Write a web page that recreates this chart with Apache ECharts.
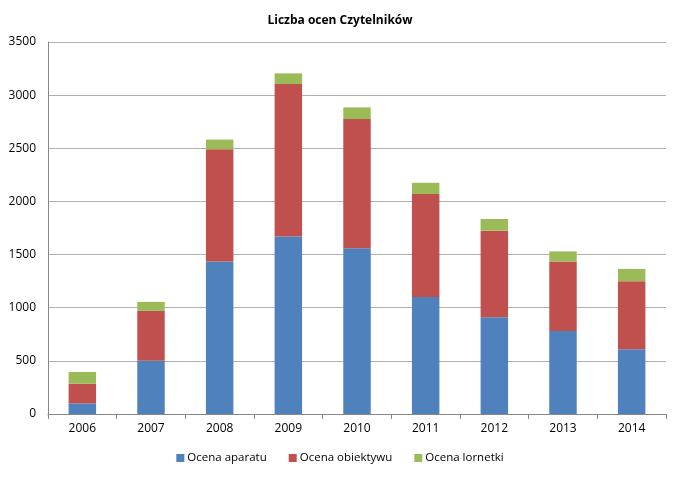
<!DOCTYPE html>
<html><head><meta charset="utf-8">
<script src="https://cdn.jsdelivr.net/npm/echarts@6/dist/echarts.min.js"></script>
<style>html,body{margin:0;padding:0;background:#fff}#c{width:680px;height:477px}</style>
</head><body><div id="c"></div>
<script>
const categories = ['2006','2007','2008','2009','2010','2011','2012','2013','2014'];
const ocenaAparatu = [100, 500, 1435, 1670, 1560, 1100, 910, 780, 610];
const ocenaObiektywu = [185, 470, 1057, 1435, 1215, 970, 815, 655, 640];
const ocenaLornetki = [110, 85, 90, 100, 110, 105, 110, 95, 115];
const seriesNames = ['Ocena aparatu', 'Ocena obiektywu', 'Ocena lornetki'];
const colors = ['#4F81BD', '#C0504D', '#9BBB59'];
const FONT = 'Open Sans';
const chart = echarts.init(document.getElementById('c'), null, {renderer:'canvas'});
const mk = (name, data, i) => ({
  name, type:'bar', stack:'s', data, barWidth:'40%',
  itemStyle:{color:colors[i]}, emphasis:{disabled:true}
});
chart.setOption({
  animation:false,
  backgroundColor:'#fff',
  title:{text:'Liczba ocen Czytelników', left:'center', top:10,
    textStyle:{fontFamily:FONT, fontSize:12, fontWeight:'bold', color:'#000'}},
  legend:{bottom:8, left:'center', itemWidth:8, itemHeight:8, itemGap:22, icon:'rect',
    textStyle:{fontFamily:FONT, fontSize:11.5, color:'#000', padding:[0,0,0,-2]},
    data:seriesNames},
  grid:{left:48, right:14, top:42, bottom:63, containLabel:false},
  xAxis:{type:'category', data:categories, boundaryGap:true,
    axisLine:{lineStyle:{color:'#888'}},
    axisTick:{show:true, length:5, lineStyle:{color:'#888'}, alignWithLabel:false},
    axisLabel:{fontFamily:FONT, fontSize:12, color:'#000', margin:9}},
  yAxis:{type:'value', min:0, max:3500, interval:500,
    axisLine:{show:true, lineStyle:{color:'#888'}},
    axisTick:{show:false},
    splitLine:{lineStyle:{color:'#b0b0b0', width:1}},
    axisLabel:{fontFamily:FONT, fontSize:12, color:'#000', margin:12, formatter:v => String(v)}},
  series:[mk(seriesNames[0], ocenaAparatu, 0), mk(seriesNames[1], ocenaObiektywu, 1), mk(seriesNames[2], ocenaLornetki, 2)]
});
</script></body></html>
